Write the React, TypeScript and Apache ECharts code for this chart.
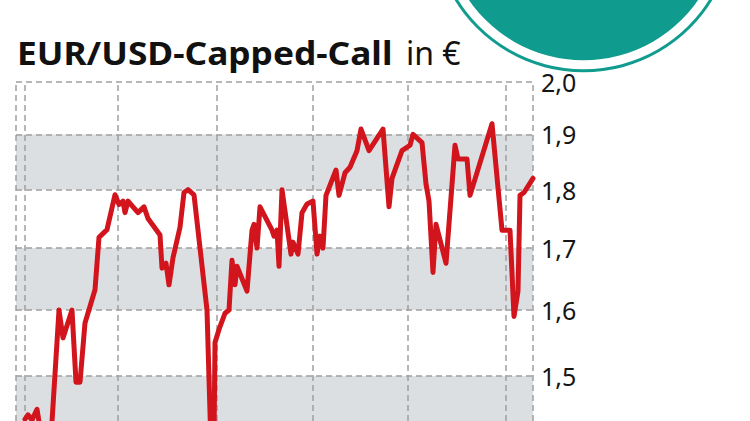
import React, { useEffect, useRef } from "react";
import * as echarts from "echarts";

// Trading-day positions (x) and option price in € (y)
const xDays = [
  9, 12, 16, 21, 27, 34, 43, 47, 56, 60, 64, 69, 79, 83, 91, 99, 103, 107, 109, 112,
  122, 128, 132, 144, 146, 150, 153, 157, 164, 168, 172, 178, 191, 195, 198, 199, 203,
  209, 213, 216, 219, 221, 231, 236, 238, 241, 244, 256, 258, 261, 263, 266, 275, 277,
  282, 286, 291, 297, 301, 304, 307, 310, 320, 323, 329, 334, 341, 345, 353, 367, 373,
  376, 386, 394, 397, 406, 410, 413, 417, 420, 430, 439, 442, 451, 454, 476, 486, 494,
  498, 502, 504, 508, 517,
];
const prices = [
  1.438, 1.444, 1.437, 1.452, 1.4, 1.39, 1.6, 1.557, 1.6, 1.491, 1.491, 1.58, 1.632,
  1.718, 1.731, 1.791, 1.774, 1.78, 1.76, 1.78, 1.76, 1.77, 1.75, 1.722, 1.667, 1.675,
  1.64, 1.684, 1.735, 1.795, 1.8, 1.791, 1.6, 1.4, 1.41, 1.55, 1.57, 1.595, 1.6, 1.68,
  1.64, 1.67, 1.63, 1.73, 1.74, 1.7, 1.77, 1.73, 1.72, 1.73, 1.67, 1.8, 1.69, 1.71,
  1.69, 1.76, 1.775, 1.78, 1.69, 1.72, 1.7, 1.79, 1.835, 1.79, 1.83, 1.84, 1.87, 1.91,
  1.87, 1.91, 1.77, 1.82, 1.87, 1.88, 1.9, 1.885, 1.81, 1.78, 1.66, 1.74, 1.675, 1.88,
  1.855, 1.855, 1.79, 1.92, 1.73, 1.73, 1.59, 1.63, 1.79, 1.795, 1.82,
];

const yTicks = [2.0, 1.9, 1.8, 1.7, 1.6, 1.5];
const yTickLabels = ["2,0", "1,9", "1,8", "1,7", "1,6", "1,5"];
const bandPairs = [
  [1.9, 1.8],
  [1.7, 1.6],
  [1.5, 1.4],
];
const xGridDays = [0, 9, 102, 201, 297, 392, 490, 517];
const xMin = 0;
const xMax = 517;
const yMin = 1.4354;
const yMax = 2.0;

const titleBold = "EUR/USD-Capped-Call";
const titleUnit = "in €";

const RED = "#d2141c";
const TEAL = "#109b8f";
const GRID = "#a0a0a0";
const BAND = "#dcdfe2";

export default function App() {
  const ref = useRef<HTMLDivElement>(null);

  useEffect(() => {
    if (!ref.current) return;
    const chart = echarts.init(ref.current, null, { renderer: "svg" });

    const lineData = xDays.map((d, i) => [d, prices[i]]);

    chart.setOption({
      animation: false,
      grid: { left: 16, top: 82, width: 517, height: 339 },
      xAxis: {
        type: "value",
        min: xMin,
        max: xMax,
        show: false,
        splitLine: { show: false },
      },
      yAxis: {
        type: "log",
        logBase: 10,
        min: yMin,
        max: yMax,
        show: false,
        splitLine: { show: false },
      },
      series: [
        {
          type: "line",
          z: 1,
          silent: true,
          data: [[xMin, yMax]],
          showSymbol: false,
          lineStyle: { width: 0, opacity: 0 },
          markArea: {
            silent: true,
            itemStyle: { color: BAND },
            data: bandPairs.map(([a, b]) => [{ yAxis: a }, { yAxis: b }]),
          },
          markLine: {
            silent: true,
            symbol: ["none", "none"],
            lineStyle: { color: GRID, width: 1.5, type: [6, 4] },
            label: {
              show: true,
              position: "end",
              distance: 8,
              formatter: "{b}",
              fontFamily: "Noto Sans",
              fontSize: 25,
              color: "#151515",
            },
            data: [
              ...yTicks.map((v, i) => ({ yAxis: v, name: yTickLabels[i] })),
              ...xGridDays.map((d) => ({ xAxis: d, label: { show: false } })),
            ],
          },
        },
        {
          type: "line",
          z: 5,
          data: lineData,
          showSymbol: false,
          symbol: "none",
          clip: true,
          lineStyle: { color: RED, width: 5, join: "round", cap: "round" },
        },
      ],
      graphic: [
        { type: "circle", shape: { cx: 583.5, cy: -78.7, r: 151 }, style: { fill: TEAL } },
        { type: "circle", shape: { cx: 583.5, cy: -78.7, r: 148 }, style: { fill: "#ffffff" } },
        { type: "circle", shape: { cx: 583.5, cy: -78.7, r: 139 }, style: { fill: TEAL } },
        {
          type: "text",
          x: 17,
          y: 52,
          scaleX: 1.07,
          style: {
            text: titleBold,
            font: "bold 33px 'Noto Sans'",
            fill: "#111111",
            verticalAlign: "middle",
          },
        },
        {
          type: "text",
          x: 406,
          y: 52,
          style: {
            text: titleUnit,
            font: "32px 'Noto Sans'",
            fill: "#111111",
            verticalAlign: "middle",
          },
        },
      ],
    });

    return () => chart.dispose();
  }, []);

  return (
    <div
      ref={ref}
      style={{ position: "fixed", left: 0, top: 0, width: 750, height: 421, background: "#fff" }}
    />
  );
}
